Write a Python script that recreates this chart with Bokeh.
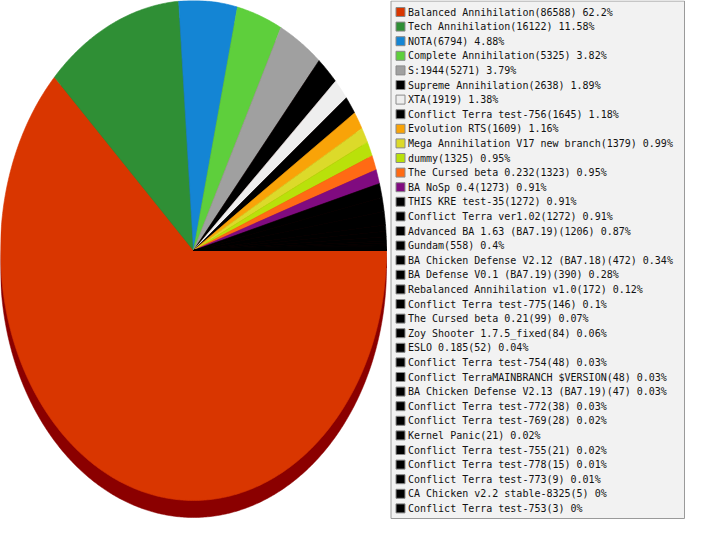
import numpy as np
from bokeh.plotting import figure
from bokeh.models import Range1d, ColumnDataSource
from bokeh.core.properties import value
from bokeh.embed import file_html
from bokeh.resources import INLINE

names = [
    "Balanced Annihilation", "Tech Annihilation", "NOTA", "Complete Annihilation",
    "S:1944", "Supreme Annihilation", "XTA", "Conflict Terra test-756",
    "Evolution RTS", "Mega Annihilation V17 new branch", "dummy",
    "The Cursed beta 0.232", "BA NoSp 0.4", "THIS KRE test-35",
    "Conflict Terra ver1.02", "Advanced BA 1.63 (BA7.19)", "Gundam",
    "BA Chicken Defense V2.12 (BA7.18)", "BA Defense V0.1 (BA7.19)",
    "Rebalanced Annihilation v1.0", "Conflict Terra test-775",
    "The Cursed beta 0.21", "Zoy Shooter 1.7.5_fixed", "ESLO 0.185",
    "Conflict Terra test-754", "Conflict TerraMAINBRANCH $VERSION",
    "BA Chicken Defense V2.13 (BA7.19)", "Conflict Terra test-772",
    "Conflict Terra test-769", "Kernel Panic", "Conflict Terra test-755",
    "Conflict Terra test-778", "Conflict Terra test-773",
    "CA Chicken v2.2 stable-8325", "Conflict Terra test-753",
]
counts = [
    86588, 16122, 6794, 5325, 5271, 2638, 1919, 1645, 1609, 1379, 1325,
    1323, 1273, 1272, 1272, 1206, 558, 472, 390, 172, 146, 99, 84, 52,
    48, 48, 47, 38, 28, 21, 21, 15, 9, 5, 3,
]
colors = [
    "#D93600", "#2F8F35", "#1485D4", "#5ECF3C", "#A0A0A0", "#000000",
    "#EEEEEE", "#000000", "#F9A308", "#DCDA2A", "#B9E10A", "#FF6A14",
    "#800B80",
] + ["#000000"] * 22
shadow_color = "#8B0000"

total = sum(counts)
labels = []
for n, c in zip(names, counts):
    pct = round(c * 100.0 / total, 2)
    labels.append(f"{n}({c}) {pct:g}%")

W, H = 685, 519
p = figure(width=W, height=H, x_range=Range1d(0, W), y_range=Range1d(H, 0),
           output_backend="svg", toolbar_location=None, min_border=0,
           x_axis_location=None, y_axis_location=None)
p.grid.visible = False
p.outline_line_color = None
p.background_fill_color = "white"
p.border_fill_color = "white"

# pie geometry (screen-like coordinates, y grows downward)
cx, cy, rx, ry, depth = 193.0, 250.0, 193.0, 250.0, 17.0

fr = np.cumsum([0] + counts) / total * 2 * np.pi
xs, ys, sxs, sys_ = [], [], [], []
for i in range(len(counts)):
    a0, a1 = fr[i], fr[i + 1]
    n = max(3, int(np.degrees(a1 - a0) * 2) + 3)
    t = np.linspace(a0, a1, n)
    px = np.concatenate([[cx], cx + rx * np.cos(t)])
    py = np.concatenate([[cy], cy + ry * np.sin(t)])
    xs.append(px.tolist()); ys.append(py.tolist())
    sxs.append(px.tolist()); sys_.append((py + depth).tolist())

# 3D depth (shadow) of the pie
p.patches(xs=sxs, ys=sys_, fill_color=shadow_color, line_color=shadow_color, line_width=0.5)
# top face slices
p.patches(xs=xs, ys=ys, fill_color=colors, line_color=colors, line_width=0.6)

# legend box
bx0, bx1, by0, by1 = 390.5, 684.0, 0.5, 518.0
p.quad(left=[bx0], right=[bx1], top=[by0], bottom=[by1],
       fill_color="#F2F2F2", line_color="#9A9A9A", line_width=1)

row0, dy = 11.5, 14.6
idx = np.arange(len(names))
rows_y = row0 + idx * dy
src = ColumnDataSource(dict(
    sl=[bx0 + 5] * len(names), sr=[bx0 + 14] * len(names),
    st=(rows_y - 4.5).tolist(), sb=(rows_y + 4.5).tolist(),
    tx=[bx0 + 17] * len(names), ty=rows_y.tolist(),
    color=colors, label=labels,
))
p.quad(left="sl", right="sr", top="st", bottom="sb", source=src,
       fill_color="color", line_color="#8A8A8A", line_width=1)
p.text(x="tx", y="ty", text="label", source=src,
       text_font=value("DejaVu Sans Mono"), text_font_size="10px",
       text_baseline="middle", text_align="left", text_color="#111111")

open("out.html", "w").write(file_html(p, INLINE))
